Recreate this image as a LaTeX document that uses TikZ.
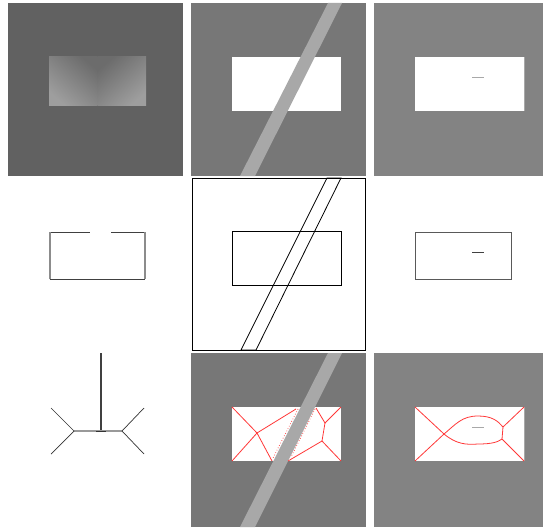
\documentclass[tikz,border=0pt]{standalone}
\definecolor{bgA}{HTML}{616161}
\definecolor{bgB}{HTML}{777777}
\definecolor{bgC}{HTML}{838383}
\definecolor{stripe}{HTML}{A8A8A8}
\definecolor{gdark}{HTML}{6C6C6C}
\definecolor{glight}{HTML}{9E9E9E}
\definecolor{vred}{HTML}{FF3838}
\tikzset{
  thinblack/.style={draw=black,line width=0.8pt},
  redline/.style={draw=vred,line width=0.8pt},
  reddot/.style={draw=vred,line width=0.7pt,dotted},
}
\begin{document}
\begin{tikzpicture}[x=1pt,y=-1pt]
\useasboundingbox (0,0) rectangle (543,527);
\fill[white] (0,0) rectangle (543,527);
% ---------- row 1 ----------
\fill[bgA] (8,3) rectangle (183,176);
\shade[top color=gdark,bottom color=glight,shading angle=-40] (49,57) rectangle (97.5,105);
\shade[top color=gdark,bottom color=glight,shading angle=40] (97.5,57) rectangle (146,105);
\fill[bgB] (191,3) rectangle (366,176);
\fill[white] (232,57) rectangle (341,111);
\fill[stripe] (328,3) -- (342,3) -- (255,176) -- (240,176) -- cycle;
\fill[bgC] (374,3) rectangle (543,176);
\fill[white] (415,57) rectangle (524,111);
\draw[stripe,line width=0.8pt] (524,57) -- (524,111);
\draw[stripe,line width=0.8pt] (472,77) -- (484,77);
% ---------- row 2 ----------
\draw[black!75,line width=0.9pt] (49.5,232) -- (90,232);
\draw[black!75,line width=0.9pt] (111,232) -- (145,232);
\draw[black!75,line width=0.9pt] (49.5,279) -- (145,279);
\draw[black!45,line width=1.3pt] (50,232) -- (50,279);
\draw[black!45,line width=1.3pt] (145,232) -- (145,279);
\draw[thinblack] (192,178) rectangle (365,350);
\draw[thinblack] (232,231) rectangle (341,285);
\draw[thinblack] (327,178) -- (341,178) -- (256,350) -- (241,350) -- cycle;
\draw[black!65,line width=0.9pt] (415,232) rectangle (511,279);
\draw[black!75,line width=0.9pt] (472,252) -- (484,252);
% ---------- row 3 ----------
\coordinate (t) at (101,353);
\coordinate (c) at (101,431);
\coordinate (l) at (74,431);
\coordinate (r) at (122,431);
\draw[black!75,line width=1.3pt] (t) -- (c);
\draw[black!40,line width=1.1pt] (l) -- (r);
\draw[black!80,line width=0.8pt] (96,431) -- (106,431);
\draw[black!80,line width=0.7pt] (51,408) -- (l) -- (51,454);
\draw[black!80,line width=0.7pt] (144,408) -- (r) -- (144,454);
% panel 8
\fill[bgB] (191,353) rectangle (366,527);
\fill[white] (232,407) rectangle (341,461);
\fill[stripe] (328,353) -- (342,353) -- (255,527) -- (240,527) -- cycle;
\coordinate (a) at (257,433);
\draw[redline] (232,407) -- (a) -- (232,461);
\draw[redline] (a) -- (296,409);
\draw[redline] (a) -- (272,461);
\draw[reddot] (298,409) -- (273,458);
\coordinate (b) at (325,423);
\coordinate (d) at (322,441);
\draw[redline] (341,407) -- (b) -- (316,408);
\draw[redline] (b) -- (d) -- (341,461);
\draw[redline] (d) -- (288,461);
\draw[reddot] (315,409) -- (291,457);
% panel 9
\fill[bgC] (374,353) rectangle (543,527);
\fill[white] (415,407) rectangle (524,461);
\draw[stripe,line width=0.8pt] (524,407) -- (524,461);
\draw[stripe,line width=0.8pt] (472,427) -- (484,427);
\coordinate (p) at (444,434);
\coordinate (q) at (503,427);
\coordinate (s) at (502,439);
\draw[redline] (415,407) -- (p) -- (415,461);
\draw[redline] (524,407) -- (q) -- (s) -- (524,461);
\draw[redline] (p) .. controls (456,424) and (462,416) .. (478,416) .. controls (492,416) and (498,421) .. (q);
\draw[redline] (p) .. controls (456,444) and (466,445) .. (478,444) .. controls (492,444) and (498,442) .. (s);
\end{tikzpicture}
\end{document}
